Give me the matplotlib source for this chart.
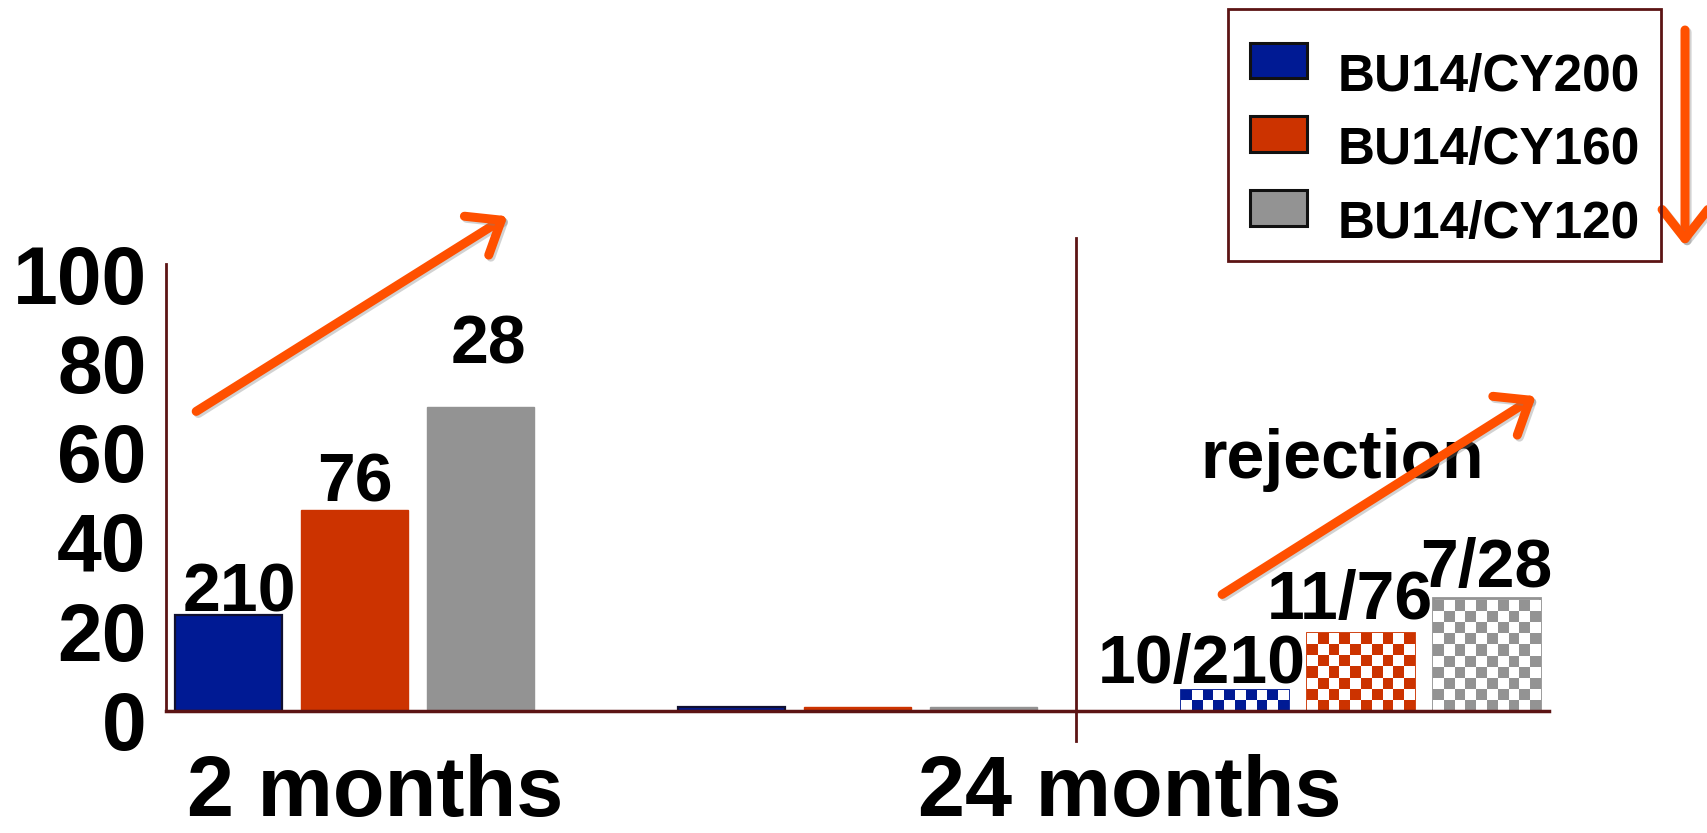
import numpy as np
import matplotlib
matplotlib.use("Agg")
import matplotlib.pyplot as plt
from matplotlib.patches import Rectangle, FancyArrowPatch, ArrowStyle
from matplotlib.colors import ListedColormap
from matplotlib.transforms import ScaledTranslation
from matplotlib.legend_handler import HandlerPatch
import matplotlib.patheffects as pe

plt.rcParams['font.family'] = ['Liberation Sans', 'DejaVu Sans']
plt.rcParams['font.weight'] = 'bold'

# ---- data -------------------------------------------------------------
series = ["BU14/CY200", "BU14/CY160", "BU14/CY120"]
colors = ["#001A94", "#CC3300", "#939393"]
# clusters: 2 months, 24 months, 24-month rejection (checkered)
cy200 = [21.5, 0.8, 4.7]
cy160 = [44.9, 0.8, 17.3]
cy120 = [68.0, 0.8, 25.1]
patients = ["210", "76", "28"]
rejected = ["10/210", "11/76", "7/28"]
yticks = [0, 20, 40, 60, 80, 100]
time_labels = ["2 months", "24 months"]
trend_label = "rejection"

values = [cy200, cy160, cy120]
clusters = np.arange(3)
offsets = [-0.25, 0.0, 0.25]
bar_w = 0.213
maroon = "#5C1414"
arrow_c = "#FF5000"

fig = plt.figure(figsize=(17.08, 8.33), dpi=100)
ax = fig.add_axes([0.0972, 0.147, 0.8097, 0.536])
ax.set_xlim(-0.375, 2.375)
ax.set_ylim(0, 100)

containers = []
for vals, off, col in zip(values, offsets, colors):
    bc = ax.bar(clusters + off, vals, width=bar_w, color=col,
                edgecolor=col, linewidth=1.0, zorder=3)
    containers.append(bc)

# solid blue bars carry a dark outline
for p in containers[0].patches[:2]:
    p.set_edgecolor("#101030")
    p.set_linewidth(1.6)

# checkered fill for the rejection cluster
fig.canvas.draw()
px_per_x = ax.transData.transform((1, 0))[0] - ax.transData.transform((0, 0))[0]
px_per_y = ax.transData.transform((0, 1))[1] - ax.transData.transform((0, 0))[1]
cell = 11.0
for bc, col in zip(containers, colors):
    bar = bc.patches[2]
    bar.set_facecolor("white")
    bar.set_edgecolor(col)
    bar.set_linewidth(2.0)
    x0, w, h = bar.get_x(), bar.get_width(), bar.get_height()
    nx = max(1, int(round(w * px_per_x / cell)))
    ny = max(1, int(round(h * px_per_y / cell)))
    checker = np.add.outer(np.arange(ny), np.arange(nx)) % 2
    im = ax.imshow(checker, cmap=ListedColormap(["white", col]),
                   extent=(x0, x0 + w, 0, ny * cell / px_per_y),
                   origin="lower", aspect="auto", interpolation="nearest",
                   zorder=3.5)
    im.set_clip_path(bar)
ax.set_xlim(-0.375, 2.375)
ax.set_ylim(0, 100)

# axes styling
for s in ("top", "right"):
    ax.spines[s].set_visible(False)
ax.spines["left"].set_color(maroon)
ax.spines["bottom"].set_color(maroon)
ax.spines["left"].set_linewidth(2)
ax.spines["bottom"].set_linewidth(2.5)
ax.spines["bottom"].set_zorder(4)
ax.set_xticks([])
ax.set_yticks(yticks)
ax.set_yticklabels([str(v) for v in yticks], fontsize=58, fontweight="bold")
ax.tick_params(axis="y", length=0, pad=14)
shift = ScaledTranslation(0, -10 / 100, fig.dpi_scale_trans)
for lbl in ax.get_yticklabels():
    lbl.set_transform(lbl.get_transform() + shift)

# cluster separator
ax.plot([1.435, 1.435], [-6.8, 105.9], color=maroon, lw=2, clip_on=False, zorder=2)

# value labels
lab_fs = 49
solid_x = [-0.2285, 0.0, 0.267]
solid_y = [22.1, 46.9, 77.7]
for t, x, y in zip(patients, solid_x, solid_y):
    ax.text(x, y, t, ha="center", va="baseline", fontsize=lab_fs,
            fontweight="bold", zorder=5)
rej_x = [1.684, 1.98, 2.251]
rej_y = [6.1, 20.6, 27.7]
for t, x, y in zip(rejected, rej_x, rej_y):
    ax.text(x, y, t, ha="center", va="baseline", fontsize=lab_fs,
            fontweight="bold", zorder=5)
ax.text(1.963, 52.0, trend_label, ha="center", va="baseline", fontsize=lab_fs,
        fontweight="bold", zorder=5)

# time-point labels under the axis
for t, x in zip(time_labels, [0.041, 1.542]):
    ax.text(x, -0.237, t, transform=ax.get_xaxis_transform(), ha="center",
            va="baseline", fontsize=61, fontweight="bold")

# trend arrows
shadow = [pe.SimpleLineShadow(offset=(1.5, -1.5), shadow_color="gray", alpha=0.35),
          pe.Normal()]
astyle = ArrowStyle("->", head_length=0.7, head_width=0.55)
for tail, head in [((-0.315, 67.0), (0.304, 110.7)),
                   ((1.725, 26.0), (2.349, 70.4))]:
    a = FancyArrowPatch(tail, head, arrowstyle=astyle, mutation_scale=30,
                        lw=6.5, color=arrow_c, shrinkA=0, shrinkB=0,
                        capstyle="round", joinstyle="round",
                        transform=ax.transData, clip_on=False, zorder=6)
    a.set_path_effects(shadow)
    ax.add_artist(a)

W, H = 1708, 833
down = FancyArrowPatch((1685 / W, 1 - 30 / H), (1685 / W, 1 - 246 / H),
                       arrowstyle=astyle, mutation_scale=30, lw=6.5,
                       color=arrow_c, shrinkA=0, shrinkB=0,
                       capstyle="round", joinstyle="round",
                       transform=fig.transFigure)
down.set_path_effects(shadow)
fig.add_artist(down)


# legend: swatches sit a little above the text centre
def raised_patch(legend, orig_handle, xdescent, ydescent, width, height, fontsize):
    return Rectangle((-xdescent, -ydescent + 0.24 * fontsize), width, height)


handles = [Rectangle((0, 0), 1, 1, facecolor=c, edgecolor="#111111", linewidth=2.2)
           for c in colors]
leg = fig.legend(handles, series, loc="center left",
                 bbox_to_anchor=(1250 / W, 1 - 151 / H),
                 frameon=False, prop={"weight": "bold", "size": 37},
                 handlelength=1.1, handleheight=0.7, handletextpad=0.6,
                 labelspacing=0.48, borderpad=0, borderaxespad=0,
                 handler_map={Rectangle: HandlerPatch(patch_func=raised_patch)})
fig.add_artist(Rectangle((1228 / W, 1 - 261 / H), (1661 - 1228) / W, (261 - 8.7) / H,
                         transform=fig.transFigure, fill=False,
                         edgecolor=maroon, linewidth=2))

fig.savefig("out.png", dpi=100)
